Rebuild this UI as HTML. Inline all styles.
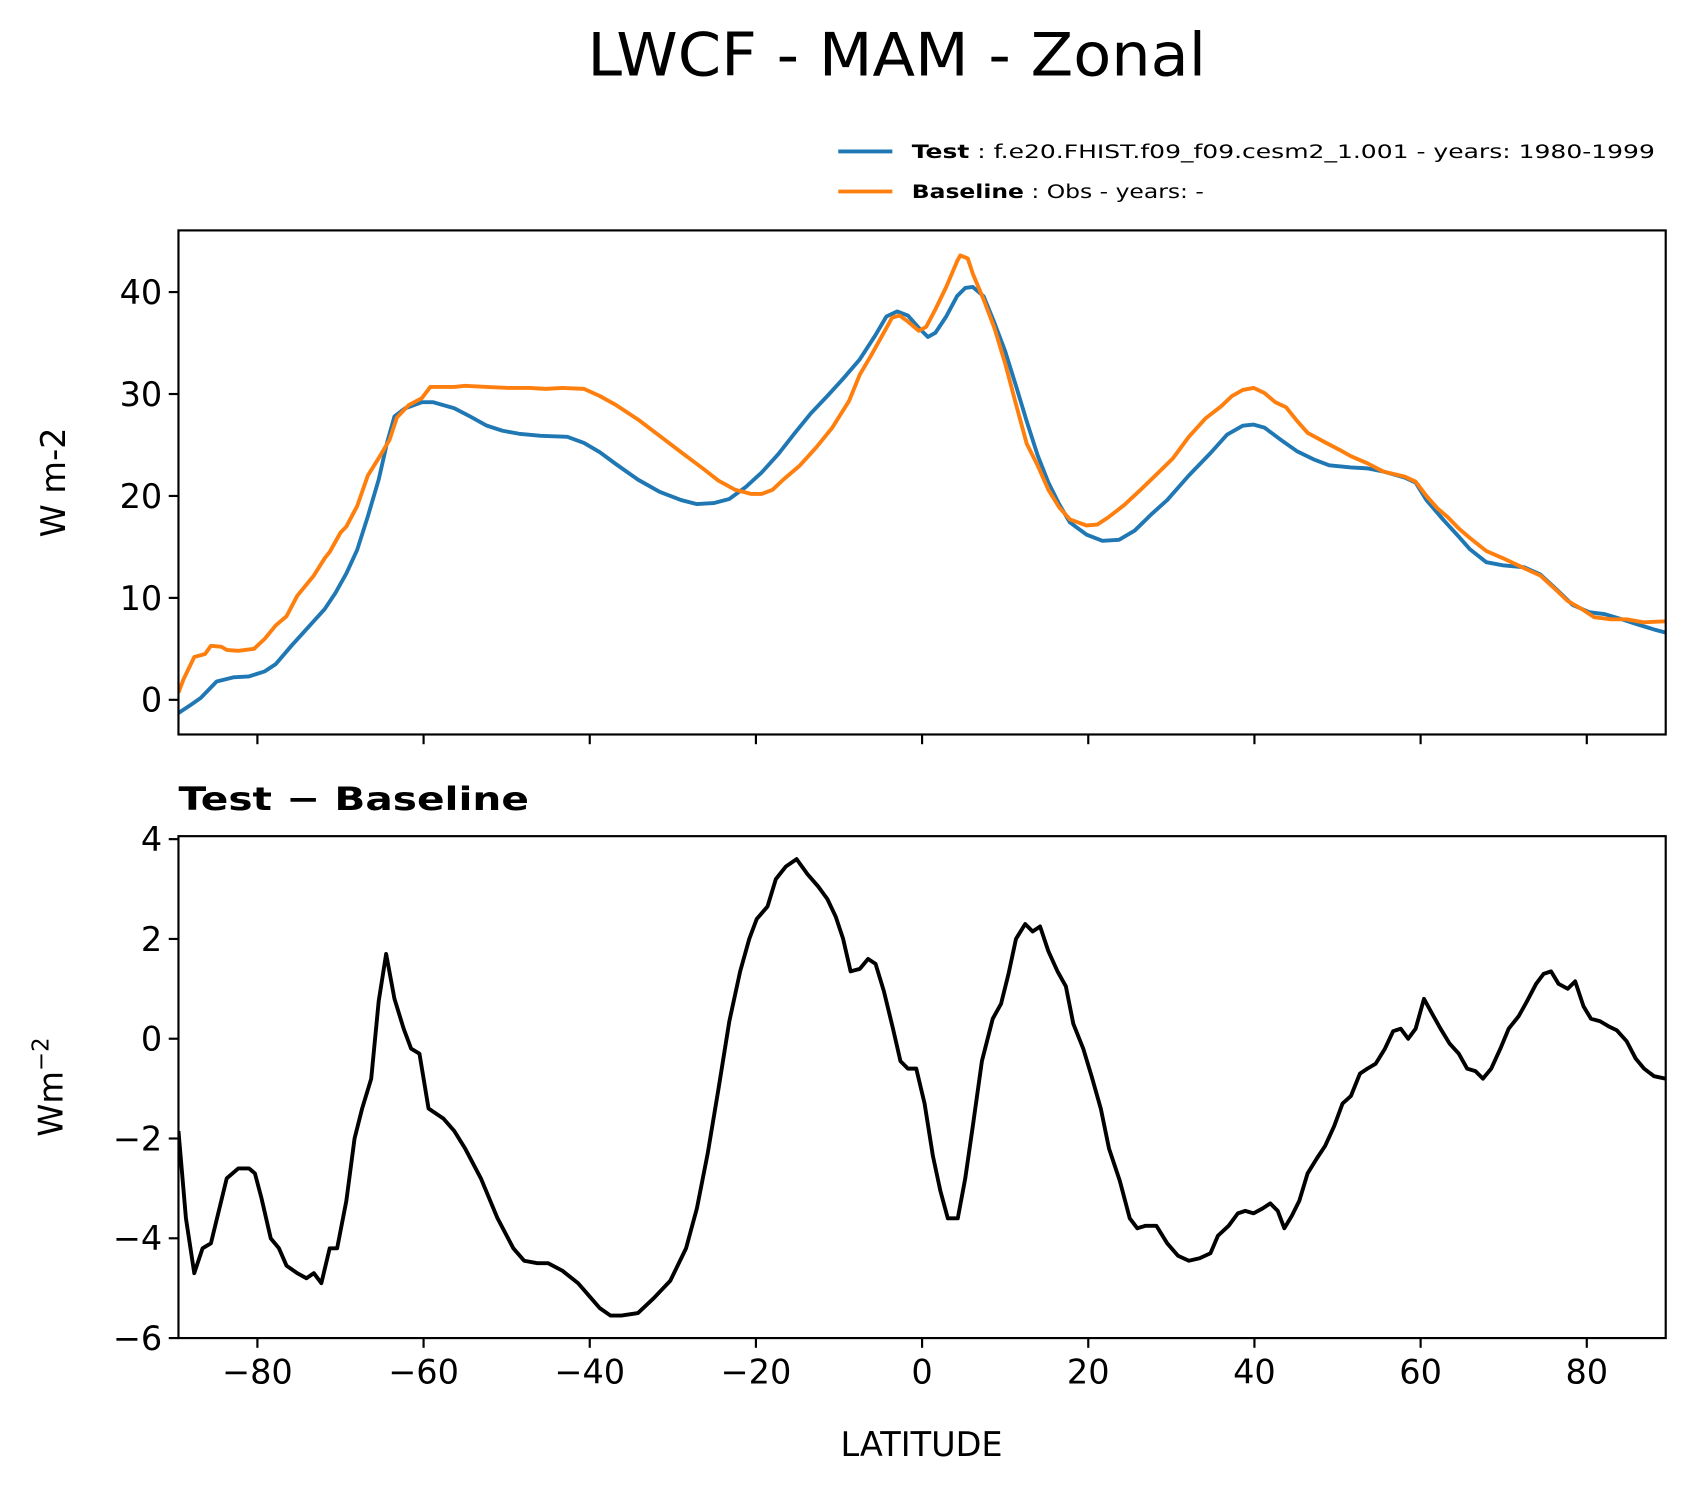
<!DOCTYPE html>
<html><head><meta charset="utf-8"><style>
html,body{margin:0;padding:0;background:#fff;}
svg{display:block;font-family:"DejaVu Sans","Liberation Sans",sans-serif;}
</style></head><body>
<svg id="fig" width="1696" height="1496" viewBox="0 0 1568 1383" preserveAspectRatio="none" xmlns="http://www.w3.org/2000/svg">
<defs><clipPath id="ct"><rect x="165" y="213" width="1375" height="466"/></clipPath><clipPath id="cb"><rect x="165" y="773" width="1375" height="464"/></clipPath></defs>
<rect width="1568" height="1383" fill="#fff"/>
<text x="829" y="70" font-size="55" text-anchor="middle" textLength="572" lengthAdjust="spacingAndGlyphs">LWCF - MAM - Zonal</text>
<g>
<line x1="775" y1="140" x2="825" y2="140" stroke="#1f77b4" stroke-width="3.5"/>
<text x="843" y="146" font-size="17" textLength="687" lengthAdjust="spacingAndGlyphs"><tspan font-weight="bold">Test</tspan> : f.e20.FHIST.f09_f09.cesm2_1.001 - years: 1980-1999</text>
<line x1="775" y1="177" x2="825" y2="177" stroke="#ff7f0e" stroke-width="3.5"/>
<text x="843" y="183" font-size="17" textLength="270" lengthAdjust="spacingAndGlyphs"><tspan font-weight="bold">Baseline</tspan> : Obs - years: -</text>
</g>
<g id="topPanel"></g>
<g id="botPanel"></g>
<text x="165" y="749" font-size="30" font-weight="bold" textLength="324" lengthAdjust="spacingAndGlyphs">Test − Baseline</text>
<text transform="translate(60,446) rotate(-90)" font-size="31" text-anchor="middle">W m-2</text>
<text transform="translate(58,1005) rotate(-90)" font-size="31" text-anchor="middle">Wm<tspan font-size="21" dy="-13">−2</tspan></text>
<text x="852" y="1346" font-size="31" text-anchor="middle">LATITUDE</text>
</svg>
<script>
const testLat=[-89.5,-88.2,-86.8,-84.9,-82.9,-81.0,-79.1,-77.8,-75.8,-73.9,-71.9,-70.6,-69.3,-68.0,-66.7,-65.4,-64.4,-63.5,-62.2,-60.2,-58.9,-56.3,-54.4,-52.4,-50.5,-48.5,-45.9,-42.7,-40.7,-38.8,-36.8,-34.2,-31.6,-29.0,-27.1,-25.1,-23.2,-21.2,-19.3,-17.3,-15.3,-13.4,-11.4,-9.5,-7.5,-5.6,-4.3,-3.0,-1.7,-0.4,0.7,1.6,2.9,4.2,5.2,6.1,7.4,8.7,10.0,11.3,12.6,13.9,15.2,16.5,17.8,19.8,21.7,23.7,25.6,27.6,29.5,32.1,34.7,36.7,38.6,39.9,41.2,43.2,45.1,47.1,49.0,51.6,53.6,55.5,58.1,59.4,60.7,62.7,64.6,65.9,67.9,69.9,72.5,74.4,76.4,78.3,80.3,82.2,84.2,86.1,88.1,89.5];
const testVal=[-1.3,-0.6,0.2,1.8,2.2,2.3,2.8,3.5,5.4,7.1,8.9,10.5,12.4,14.7,18.0,21.6,25.2,27.8,28.6,29.2,29.2,28.6,27.8,26.9,26.4,26.1,25.9,25.8,25.2,24.3,23.1,21.6,20.4,19.6,19.2,19.3,19.7,20.9,22.3,24.1,26.2,28.1,29.8,31.5,33.4,35.8,37.6,38.1,37.7,36.5,35.6,36.0,37.6,39.6,40.4,40.5,39.6,37.0,34.2,30.8,27.3,24.0,21.3,19.2,17.4,16.2,15.6,15.7,16.6,18.2,19.6,22.0,24.2,26.0,26.9,27.0,26.7,25.5,24.4,23.6,23.0,22.8,22.7,22.4,21.8,21.3,19.6,17.7,16.0,14.8,13.5,13.2,13.0,12.3,10.8,9.3,8.6,8.4,7.9,7.4,6.9,6.6];
const baseLat=[-89.5,-88.9,-87.6,-86.3,-85.6,-84.3,-83.7,-82.3,-80.4,-79.1,-77.8,-76.5,-75.2,-73.2,-71.9,-71.3,-70.0,-69.3,-68.0,-66.7,-65.4,-64.1,-63.2,-61.8,-60.2,-59.2,-56.3,-55.0,-52.4,-49.8,-47.2,-45.3,-43.3,-40.7,-38.8,-36.8,-34.2,-31.6,-29.0,-26.4,-24.5,-22.5,-20.6,-19.3,-18.0,-16.7,-14.7,-12.7,-10.8,-8.8,-7.5,-6.2,-4.9,-3.6,-2.7,-1.7,-0.4,0.5,1.6,2.9,4.2,4.6,5.5,6.1,7.4,8.7,10.0,11.3,12.6,13.9,15.2,16.5,17.8,19.8,21.1,22.4,24.3,26.3,28.2,30.2,32.1,34.1,36.0,37.3,38.6,39.9,41.2,42.5,43.8,45.1,46.4,48.4,50.3,51.6,53.6,55.5,58.1,59.4,60.7,62.0,63.3,64.6,65.9,67.9,69.9,72.5,74.4,76.4,77.7,79.6,80.9,82.9,84.8,86.8,89.5];
const baseVal=[0.7,2.0,4.2,4.5,5.3,5.2,4.9,4.8,5.0,6.0,7.3,8.2,10.2,12.2,13.9,14.5,16.4,17.0,19.0,22.0,23.7,25.5,27.7,28.9,29.6,30.7,30.7,30.8,30.7,30.6,30.6,30.5,30.6,30.5,29.8,28.9,27.5,25.9,24.3,22.7,21.5,20.6,20.2,20.2,20.6,21.6,23.0,24.8,26.7,29.3,31.9,33.7,35.6,37.5,37.7,37.1,36.2,36.6,38.3,40.5,43.0,43.6,43.3,41.8,39.3,36.5,33.0,29.0,25.1,23.0,20.6,18.9,17.7,17.1,17.2,17.9,19.1,20.6,22.1,23.7,25.8,27.6,28.8,29.8,30.4,30.6,30.1,29.2,28.7,27.4,26.2,25.3,24.5,23.9,23.2,22.4,21.9,21.4,20.0,18.8,17.9,16.8,15.9,14.6,13.9,12.9,12.2,10.7,9.7,8.8,8.1,7.9,7.9,7.6,7.7];
const diffLat=[-89.5,-88.6,-87.6,-86.6,-85.6,-83.7,-82.3,-81.0,-80.3,-79.5,-78.4,-77.4,-76.5,-75.2,-74.1,-73.2,-72.3,-71.3,-70.4,-69.3,-68.3,-67.4,-66.3,-65.4,-64.5,-63.5,-62.4,-61.5,-60.5,-59.4,-57.6,-56.3,-55.0,-53.1,-51.1,-49.2,-47.9,-46.3,-45.0,-43.3,-41.4,-40.1,-38.8,-37.5,-36.2,-34.2,-32.3,-30.3,-28.4,-27.1,-25.8,-24.5,-23.2,-21.9,-20.8,-19.9,-18.6,-17.6,-16.4,-15.1,-13.8,-12.5,-11.4,-10.4,-9.5,-8.6,-7.5,-6.5,-5.6,-4.6,-3.5,-2.6,-1.7,-0.7,0.3,1.3,2.2,3.1,4.3,5.2,6.1,7.2,8.5,9.5,10.4,11.3,12.4,13.3,14.2,15.2,16.3,17.3,18.2,19.4,20.4,21.5,22.5,23.8,25.0,25.9,26.9,28.2,29.5,30.8,32.1,33.4,34.7,35.6,36.9,38.0,38.9,39.9,41.0,41.9,42.8,43.6,44.5,45.4,46.4,47.5,48.5,49.6,50.6,51.6,52.7,53.6,54.6,55.7,56.7,57.6,58.5,59.4,60.4,61.4,62.4,63.5,64.6,65.6,66.6,67.5,68.5,69.6,70.6,71.8,72.8,73.9,74.8,75.7,76.6,77.7,78.6,79.6,80.5,81.6,82.6,83.6,84.8,85.9,86.9,88.1,89.5];
const diffVal=[-1.85,-3.6,-4.7,-4.2,-4.1,-2.8,-2.6,-2.6,-2.7,-3.2,-4.0,-4.2,-4.55,-4.7,-4.8,-4.7,-4.9,-4.2,-4.2,-3.25,-2.0,-1.4,-0.8,0.75,1.7,0.8,0.2,-0.2,-0.3,-1.4,-1.6,-1.85,-2.2,-2.8,-3.6,-4.2,-4.45,-4.5,-4.5,-4.65,-4.9,-5.15,-5.4,-5.55,-5.55,-5.5,-5.2,-4.85,-4.2,-3.4,-2.3,-1.0,0.35,1.35,2.0,2.4,2.65,3.2,3.45,3.6,3.3,3.05,2.8,2.45,2.0,1.35,1.4,1.6,1.5,0.95,0.2,-0.45,-0.6,-0.6,-1.3,-2.35,-3.05,-3.6,-3.6,-2.8,-1.75,-0.45,0.4,0.7,1.3,2.0,2.3,2.15,2.25,1.75,1.35,1.05,0.3,-0.2,-0.75,-1.4,-2.2,-2.85,-3.6,-3.8,-3.75,-3.75,-4.1,-4.35,-4.45,-4.4,-4.3,-3.95,-3.75,-3.5,-3.45,-3.5,-3.4,-3.3,-3.45,-3.8,-3.55,-3.25,-2.7,-2.4,-2.15,-1.75,-1.3,-1.15,-0.7,-0.6,-0.5,-0.2,0.15,0.2,0,0.2,0.8,0.5,0.2,-0.1,-0.3,-0.6,-0.65,-0.8,-0.6,-0.2,0.2,0.45,0.75,1.1,1.3,1.35,1.1,1.0,1.15,0.65,0.4,0.35,0.25,0.17,-0.05,-0.4,-0.6,-0.75,-0.8];
const xTicks=[-80,-60,-40,-20,0,20,40,60,80];
const topTicks=[0,10,20,30,40];
const botTicks=[-6,-4,-2,0,2,4];

const NS='http://www.w3.org/2000/svg';
const PL=165,PR=1540;
const xs=v=>PL+(v+89.5)/179*(PR-PL);
const topY=v=>679-(v+3.4)/(46.05+3.4)*(679-213);
const botY=v=>1237-(v+6)/10.06*(1237-773);
function mk(parent,tag,attrs){const e=document.createElementNS(NS,tag);for(const k in attrs)e.setAttribute(k,attrs[k]);parent.appendChild(e);return e;}
const lbl=v=>v<0?'−'+Math.abs(v):String(v);
function panel(g,B,yf,yt,showX){
  for(const t of xTicks){
    const tk=mk(g,'line',{x1:xs(t),x2:xs(t),y1:B,y2:B+9,stroke:'#000','stroke-width':2});
    
    
    if(showX){const tx=mk(g,'text',{x:xs(t),y:B+42,'font-size':31,'text-anchor':'middle'});tx.textContent=lbl(t);
      
      }
  }
  for(const t of yt){
    const tk=mk(g,'line',{x1:PL-9,x2:PL,y1:yf(t),y2:yf(t),stroke:'#000','stroke-width':2});
    
    
    const tx=mk(g,'text',{x:PL-15,y:yf(t)+11,'font-size':31,'text-anchor':'end'});tx.textContent=lbl(t);
    
    
  }
}
function series(g,lat,val,yf,color,name){
  const d=lat.map((a,i)=>(i?'L':'M')+xs(a).toFixed(1)+','+yf(val[i]).toFixed(1)).join('');
  const p=mk(g,'path',{d:d,fill:'none',stroke:color,'stroke-width':3.6,'stroke-linejoin':'round'});
  
  
}
const topG=document.getElementById('topPanel'),botG=document.getElementById('botPanel');
const gt=mk(topG,'g',{'clip-path':'url(#ct)'});
series(gt,testLat,testVal,topY,'#1f77b4','test-line');
series(gt,baseLat,baseVal,topY,'#ff7f0e','baseline-line');
const ft=mk(topG,'rect',{x:PL,y:213,width:PR-PL,height:466,fill:'none',stroke:'#000','stroke-width':2});


panel(topG,679,topY,topTicks,false);
const gb=mk(botG,'g',{'clip-path':'url(#cb)'});
series(gb,diffLat,diffVal,botY,'#000','difference-line');
const fb=mk(botG,'rect',{x:PL,y:773,width:PR-PL,height:464,fill:'none',stroke:'#000','stroke-width':2});


panel(botG,1237,botY,botTicks,true);
</script>
</body></html>
